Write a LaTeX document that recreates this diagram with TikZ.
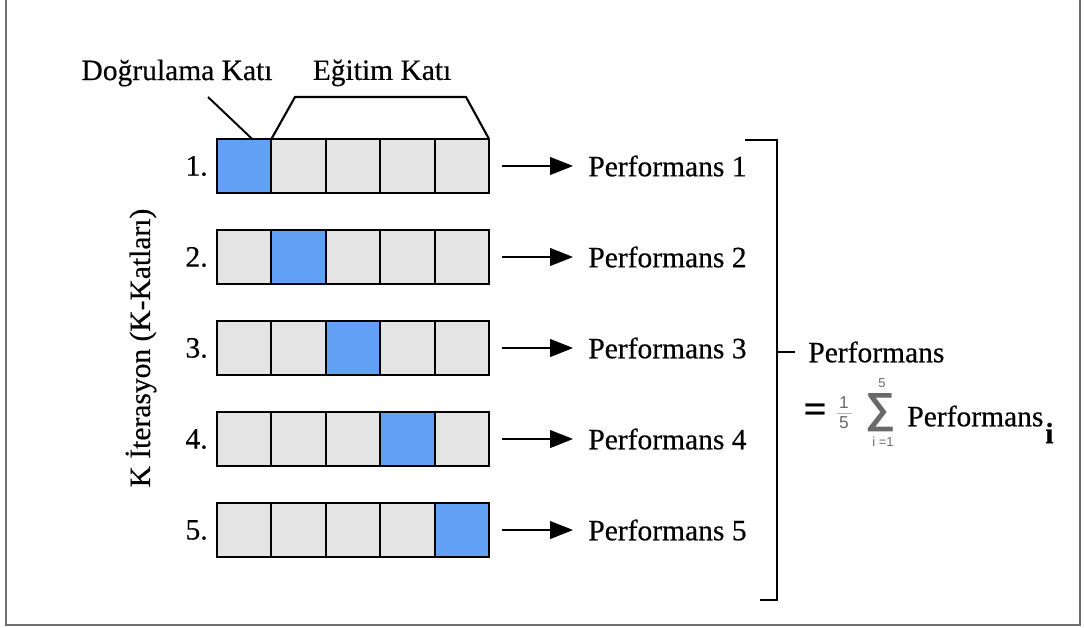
\documentclass[tikz,border=0pt]{standalone}
\usepackage{fontspec}
\setmainfont[FakeBold=0.4]{Liberation Serif}
\newfontfamily\sumfont{Liberation Sans}
\usetikzlibrary{arrows.meta,calc}

\definecolor{valblue}{RGB}{98,160,246}
\definecolor{trgray}{RGB}{228,228,228}
\definecolor{framegray}{RGB}{110,110,110}
\definecolor{formgray}{RGB}{105,105,105}

\tikzset{
  cell/.style={draw=black, line width=1.2pt, fill=trgray,
    minimum width=1.088cm, minimum height=1.08cm, inner sep=0pt, outer sep=0pt},
  valcell/.style={cell, fill=valblue},
  lbl/.style={font=\fontsize{16.8}{20}\selectfont, inner sep=0pt, text=black},
  flow/.style={line width=1.2pt, -{Triangle[length=13pt,width=10pt]}},
  brace/.style={line width=1.2pt, line join=miter},
  small/.style={font=\sumfont\fontsize{9.8}{10}\selectfont, text=formgray, inner sep=0pt},
  tiny/.style={font=\sumfont\fontsize{7.4}{8}\selectfont, text=formgray, inner sep=0pt}
}

\begin{document}
\begin{tikzpicture}[x=0.02cm, y=-0.02cm]
\useasboundingbox (0,0) rectangle (1084,628);

% outer frame, open at the top
\draw[framegray, line width=1.3pt] (6,0) -- (6,625) -- (1080,625) -- (1080,0);

% five folds, one validation cell per row
\foreach \r in {1,...,5} {
  \pgfmathsetmacro{\yc}{166 + (\r-1)*91}
  \foreach \c in {1,...,5} {
    \pgfmathsetmacro{\xc}{244.2 + (\c-1)*54.4}
    \ifnum\c=\r
      \node[valcell] (c\r-\c) at (\xc,\yc) {};
    \else
      \node[cell] (c\r-\c) at (\xc,\yc) {};
    \fi
  }
  \node[lbl, anchor=east] (n\r) at (208,\yc) {\r.};
  \node[lbl, anchor=west] (p\r) at (588,\yc) {Performans \r};
  \draw[flow] ($(c\r-5.east)+(13,0)$) -- ($(p\r.west)+(-15,0)$);
}
% redraw the validation cells on top so their borders stay whole
\foreach \r in {1,...,5} {
  \draw[line width=1.2pt] (c\r-\r.north west) rectangle (c\r-\r.south east);
}

% headings above the first row
\node[lbl] (val) at (177,73) {Doğrulama Katı};
\node[lbl] (tr) at (382,73) {Eğitim Katı};
\draw[line width=1.1pt] (208,97) -- ($(c1-1.north)+(8,0)$);
\draw[brace] (c1-2.north west) -- (295,97) -- (466,97) -- (c1-5.north east);

% vertical axis label
\node[lbl, rotate=90] (klab) at (141,348) {K İterasyon (K-Katları)};

% right bracket collecting the five scores
\draw[brace] (745,140) -- (777,140) -- (777,600) -- (760,600);
\coordinate (tick) at (777,352);
\node[lbl, anchor=west] (perf) at (808,352) {Performans};
\draw[line width=1.2pt] (tick) -- (perf.west -| 795,352);

% averaging formula
\node[font=\fontsize{23}{24}\selectfont\bfseries, inner sep=0pt] (eq) at (815,413) {=};
\node[small] (one) at (844,403) {1};
\node[small] (five) at (844,423) {5};
\draw[formgray!50, line width=0.4pt] (837,413) -- (852,413);
\node[font=\sumfont\bfseries\fontsize{24}{26}\selectfont, text=formgray, inner sep=0pt] (sum) at (881,413) {∑};
\node[tiny] (up) at (882,383) {5};
\node[tiny] (lo) at (883,442) {i =1};
\node[lbl, anchor=west] (perfi) at (907,416) {Performans};
\node[lbl, anchor=west] (sub) at (1045,433) {\textbf{i}};
\end{tikzpicture}
\end{document}
